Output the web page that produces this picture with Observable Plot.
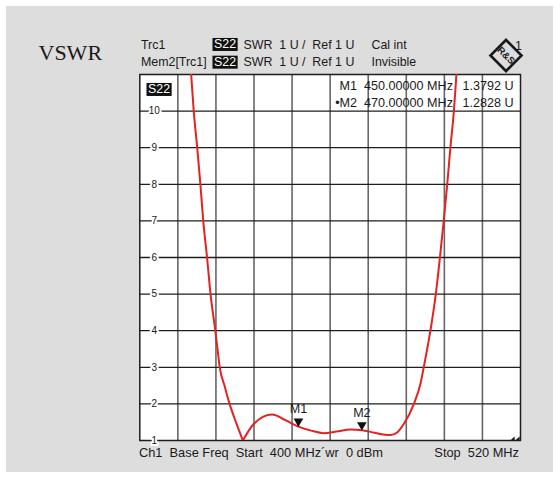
<!DOCTYPE html>
<html><head><meta charset="utf-8">
<script src="https://cdn.jsdelivr.net/npm/d3@7"></script>
<script src="https://cdn.jsdelivr.net/npm/@observablehq/plot@0.6"></script>
<style>
html,body{margin:0;padding:0;background:#fff;}
#wrap{position:relative;width:560px;height:479px;overflow:hidden;}
#panel{position:absolute;left:6px;top:6px;width:547px;height:466px;background:#dddddd;}
#chart{position:absolute;left:0;top:0;}
svg text{white-space:pre;}
</style></head><body>
<div id="wrap"><div id="panel"></div><div id="chart"></div></div>
<script>
// ---- data ----
const freqLeft = [415.4, 416.2, 417.0, 418.1, 419.1, 420.0, 421.2, 422.3, 423.8, 424.5, 425.2, 426.7, 428.3, 430.3, 432.5];
const vswrLeft = [12, 11, 10, 9, 8, 7, 6, 5, 4, 3.5, 3, 2.5, 2.0, 1.5, 1.0];
const freqRight = [432.5, 435.9, 441.7, 446, 450, 454, 458, 462, 466.4, 470, 474, 479, 481.1, 483.2, 486.4, 488.6, 489.5, 491.6, 493.3, 494.6, 495.8, 496.9, 497.9, 499.0, 499.8, 500.6];
const vswrRight = [1.0, 1.45, 1.71, 1.55, 1.3792, 1.27, 1.2, 1.245, 1.30, 1.2828, 1.21, 1.15, 1.22, 1.45, 2.0, 2.6, 3, 4, 5, 6, 7, 8, 9, 10, 11, 12];
const markerNames = ["M1", "M2"];
const markerFreqs = [450, 470];
const markerVals = [1.3792, 1.2828];
const xGrid = [412, 424, 436, 448, 460, 472, 484, 496, 508];
const yGrid = [2, 3, 4, 5, 6, 7, 8, 9, 10];
const yTickLabels = [1, 2, 3, 4, 5, 6, 7, 8, 9, 10];
const xDomain = [400, 520];
const yDomain = [1, 11];

const leftData = freqLeft.map((f, i) => ({f, v: vswrLeft[i]}));
const rightData = freqRight.map((f, i) => ({f, v: vswrRight[i]}));
const markers = markerNames.map((m, i) => ({m, f: markerFreqs[i], v: markerVals[i]}));

const ML = 139.3, MT = 74;
const one = [0];
const T = (text, dx, dy, opts = {}) =>
  Plot.text(one, {frameAnchor: "top-left", text: () => text, dx: dx - ML, dy: dy - MT,
    textAnchor: "start", lineAnchor: "middle", fill: "#1a1a1a", fontSize: 12.4, ...opts});

const chart = Plot.plot({
  width: 560, height: 479,
  marginLeft: ML, marginRight: 40, marginTop: MT, marginBottom: 39,
  x: {domain: xDomain, axis: null},
  y: {domain: yDomain, axis: null},
  style: {background: "transparent", fontFamily: "'Liberation Sans', Arial, sans-serif", fontSize: "12px", color: "#1a1a1a", overflow: "visible"},
  marks: [
    Plot.frame({fill: "white", stroke: "none"}),
    Plot.ruleX(xGrid, {stroke: "#666666", strokeWidth: 1.6}),
    Plot.ruleY(yGrid, {stroke: "#1e1e1e", strokeWidth: 1.3}),
    Plot.frame({stroke: "#1e1e1e", strokeWidth: 1.5}),
    Plot.text(yTickLabels, {x: xDomain[0], y: d => d, text: d => String(d), dx: 14.5, fontSize: 10,
      stroke: "white", strokeWidth: 4, fill: "#1a1a1a"}),
    Plot.line(leftData, {x: "f", y: "v", stroke: "#e32222", strokeWidth: 2, curve: "monotone-x", clip: true}),
    Plot.line(rightData, {x: "f", y: "v", stroke: "#e32222", strokeWidth: 2, curve: "monotone-x", clip: true}),
    Plot.dot(markers, {x: "f", y: "v", symbol: "triangle", rotate: 180, r: 3.6, fill: "#111", stroke: "none", dy: -5.2}),
    Plot.text(markers, {x: "f", y: "v", text: "m", dy: -17.5, fontSize: 12.5, fill: "#1a1a1a"}),
    // header
    T("VSWR", 38, 52, {fontFamily: "'Liberation Serif', 'Times New Roman', serif", fontSize: 22}),
    T("Trc1", 140.5, 45),
    T("Mem2[Trc1]", 140.5, 61.7),
    T("S22", 213.5, 44, {fill: "white", className: "boxed"}),
    T("S22", 213.5, 61.7, {fill: "white", className: "boxed"}),
    T("SWR  1 U /  Ref 1 U", 243, 45),
    T("SWR  1 U /  Ref 1 U", 243, 61.7),
    T("Cal int", 371, 45),
    T("Invisible", 371, 61.7),
    Plot.dot(one, {frameAnchor: "top-left", dx: 505.5 - ML, dy: 55 - MT, symbol: "diamond2", r: 14, stroke: "#1a1a1a", strokeWidth: 2.6, fill: "none"}),
    T("R&S", 505.5, 55, {textAnchor: "middle", fontSize: 9.5, rotate: 45, fontWeight: "bold"}),
    T("1", 514.5, 46),
    // in-plot labels
    T("S22", 147.5, 89, {fill: "white", className: "boxed"}),
    T("M1  450.00000 MHz", 452.5, 85.7, {textAnchor: "end", fontSize: 12.6}),
    T("\u2022M2  470.00000 MHz", 452.5, 102.3, {textAnchor: "end", fontSize: 12.6}),
    T("1.3792 U", 513, 85.7, {textAnchor: "end", fontSize: 12.6}),
    T("1.2828 U", 513, 102.3, {textAnchor: "end", fontSize: 12.6}),
    T("\u25E2\u25E2", 519, 437.5, {textAnchor: "end", fontSize: 6}),
    // footer
    T("Ch1  Base Freq  Start  400 MHz\u00B4wr  0 dBm", 138.5, 452.7, {fontSize: 12.8}),
    T("Stop  520 MHz", 518.5, 452.7, {textAnchor: "end", fontSize: 12.8})
  ]
});
document.getElementById("chart").appendChild(chart);
// black boxes behind the "S22" labels
chart.querySelectorAll("g.boxed text").forEach(t => {
  const b = t.getBBox();
  const r = document.createElementNS("http://www.w3.org/2000/svg", "rect");
  r.setAttribute("x", b.x - 1.5); r.setAttribute("y", b.y + 0.5);
  r.setAttribute("width", b.width + 3); r.setAttribute("height", b.height - 1);
  r.setAttribute("fill", "#111");
  if (t.getAttribute("transform")) r.setAttribute("transform", t.getAttribute("transform"));
  t.parentNode.insertBefore(r, t);
});
</script>
</body></html>
